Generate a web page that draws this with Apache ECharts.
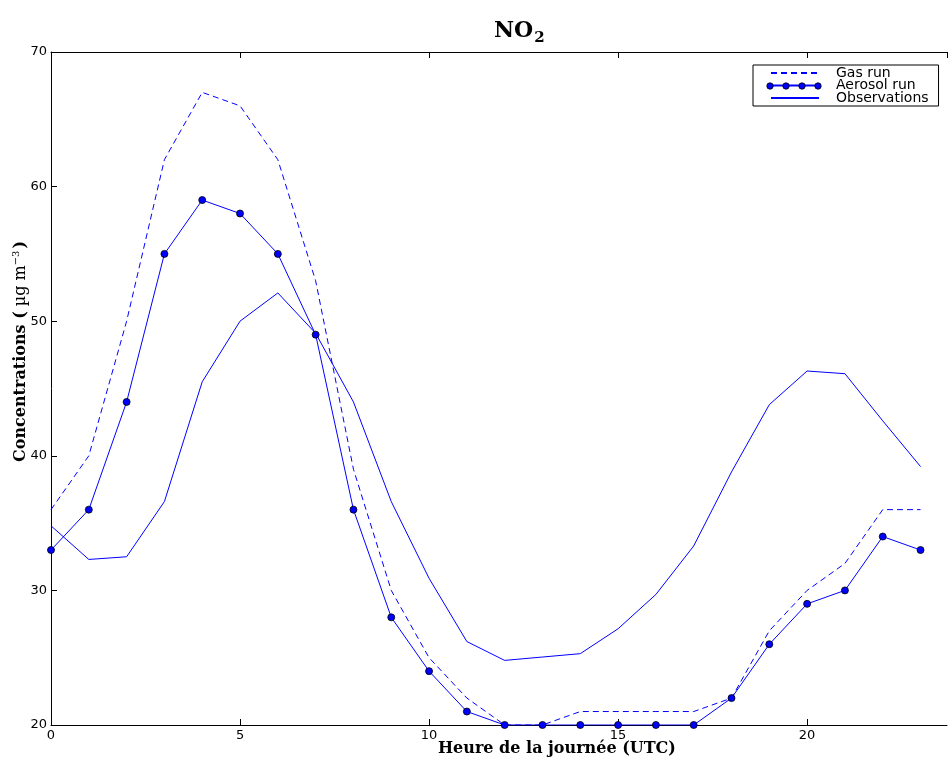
<!DOCTYPE html>
<html>
<head>
<meta charset="utf-8">
<script src="https://cdn.jsdelivr.net/npm/echarts@6/dist/echarts.min.js"></script>
<style>html,body{margin:0;padding:0;background:#fff}#c{width:949px;height:766px}</style>
</head>
<body>
<div id="c"></div>
<script>
var hours = [0,1,2,3,4,5,6,7,8,9,10,11,12,13,14,15,16,17,18,19,20,21,22,23];
var gasRun = [36,40,50,62,67,66,62,53,39,30,25,22,20,20,21,21,21,21,22,27,30,32,36,36];
var aerosolRun = [33,36,44,55,59,58,55,49,36,28,24,21,20,20,20,20,20,20,22,26,29,30,34,33];
var observations = [34.8,32.3,32.5,36.6,45.5,50.0,52.1,49.1,44.0,36.6,30.9,26.2,24.8,25.05,25.3,27.15,29.7,33.3,38.8,43.8,46.3,46.1,42.6,39.2];
var xMin = 0, xMax = 23.7, xStep = 5;
var yMin = 20, yMax = 70, yStep = 10;

function pairs(v){ return hours.map(function(h,i){ return [h, v[i]]; }); }

var blue = '#0000ff';
var hidden = {color:'rgba(0,0,0,0)', borderColor:'rgba(0,0,0,0)', borderWidth:0};
var chart = echarts.init(document.getElementById('c'), null, {renderer:'canvas'});
var axisLineStyle = {color:'#000', width:1};

// legend marker dots for the "Aerosol run" entry (legend decoration)
var legendDots = [770, 786, 802, 818].map(function(x){
  return {type:'circle', z:100, shape:{cx:x, cy:86, r:3.2},
          style:{fill:blue, stroke:'#000', lineWidth:0.8}};
});

chart.setOption({
  animation:false,
  backgroundColor:'#fff',
  title:{
    text:'{a|NO}{b|2}',
    left:489, top:12,
    textStyle:{rich:{
      a:{fontFamily:'DejaVu Serif', fontWeight:'bold', fontSize:22, color:'#000'},
      b:{fontFamily:'DejaVu Serif', fontWeight:'bold', fontSize:15, color:'#000', verticalAlign:'bottom', padding:[14,0,0,1]}
    }}
  },
  grid:{left:51, right:2, top:52, bottom:41, containLabel:false},
  legend:{
    orient:'vertical', left:753, top:65,
    padding:[1,10,1,17], itemGap:-1.5, itemWidth:48, itemHeight:12,
    borderColor:'#000', borderWidth:1, backgroundColor:'#fff',
    textStyle:{fontFamily:'DejaVu Sans', fontSize:14, color:'#000', padding:[0,0,0,12], lineHeight:12},
    data:[
      {name:'Gas run', itemStyle:hidden},
      {name:'Aerosol run', itemStyle:hidden},
      {name:'Observations', itemStyle:hidden}
    ]
  },
  xAxis:[{
    type:'value', min:xMin, max:xMax, interval:xStep,
    axisLine:{show:true, onZero:false, lineStyle:axisLineStyle},
    axisTick:{show:true, inside:true, length:6, lineStyle:axisLineStyle},
    axisLabel:{fontFamily:'DejaVu Sans', fontSize:13, color:'#000', margin:4, showMaxLabel:false},
    splitLine:{show:false}
  },{
    type:'value', position:'top', min:xMin, max:xMax, interval:xStep,
    axisLine:{show:true, onZero:false, lineStyle:axisLineStyle},
    axisTick:{show:true, inside:true, length:6, lineStyle:axisLineStyle},
    axisLabel:{show:false}, splitLine:{show:false}
  }],
  yAxis:{
    type:'value', min:yMin, max:yMax, interval:yStep,
    axisLine:{show:true, onZero:false, lineStyle:axisLineStyle},
    axisTick:{show:true, inside:true, length:6, lineStyle:axisLineStyle},
    axisLabel:{fontFamily:'DejaVu Sans', fontSize:13, color:'#000', margin:4},
    splitLine:{show:false}
  },
  graphic:[
    {type:'text', left:438, top:741, style:{text:'Heure de la journée (UTC)', font:'bold 16px "DejaVu Serif"', fill:'#000'}},
    {type:'text', x:11, y:462, rotation:Math.PI/2, style:{
      text:'{b|Concentrations (}{n| µg m}{s|−3}{b|)}',
      rich:{
        b:{font:'bold 16px "DejaVu Serif"', fill:'#000'},
        n:{font:'16px "DejaVu Serif"', fill:'#000'},
        s:{font:'10px "DejaVu Serif"', fill:'#000', verticalAlign:'top', padding:[0,2,9,0]}
      }
    }}
  ].concat(legendDots),
  series:[
    {name:'Gas run', type:'line', data:pairs(gasRun), symbol:'none', clip:true,
     lineStyle:{color:blue, width:1, type:[6,4]}, itemStyle:{color:blue}},
    {name:'Aerosol run', type:'line', data:pairs(aerosolRun), symbol:'circle', symbolSize:7, clip:true,
     lineStyle:{color:blue, width:1}, itemStyle:{color:blue, borderColor:'#000', borderWidth:0.8}},
    {name:'Observations', type:'line', data:pairs(observations), symbol:'none', clip:true,
     lineStyle:{color:blue, width:1}, itemStyle:{color:blue}}
  ]
});
</script>
</body>
</html>
